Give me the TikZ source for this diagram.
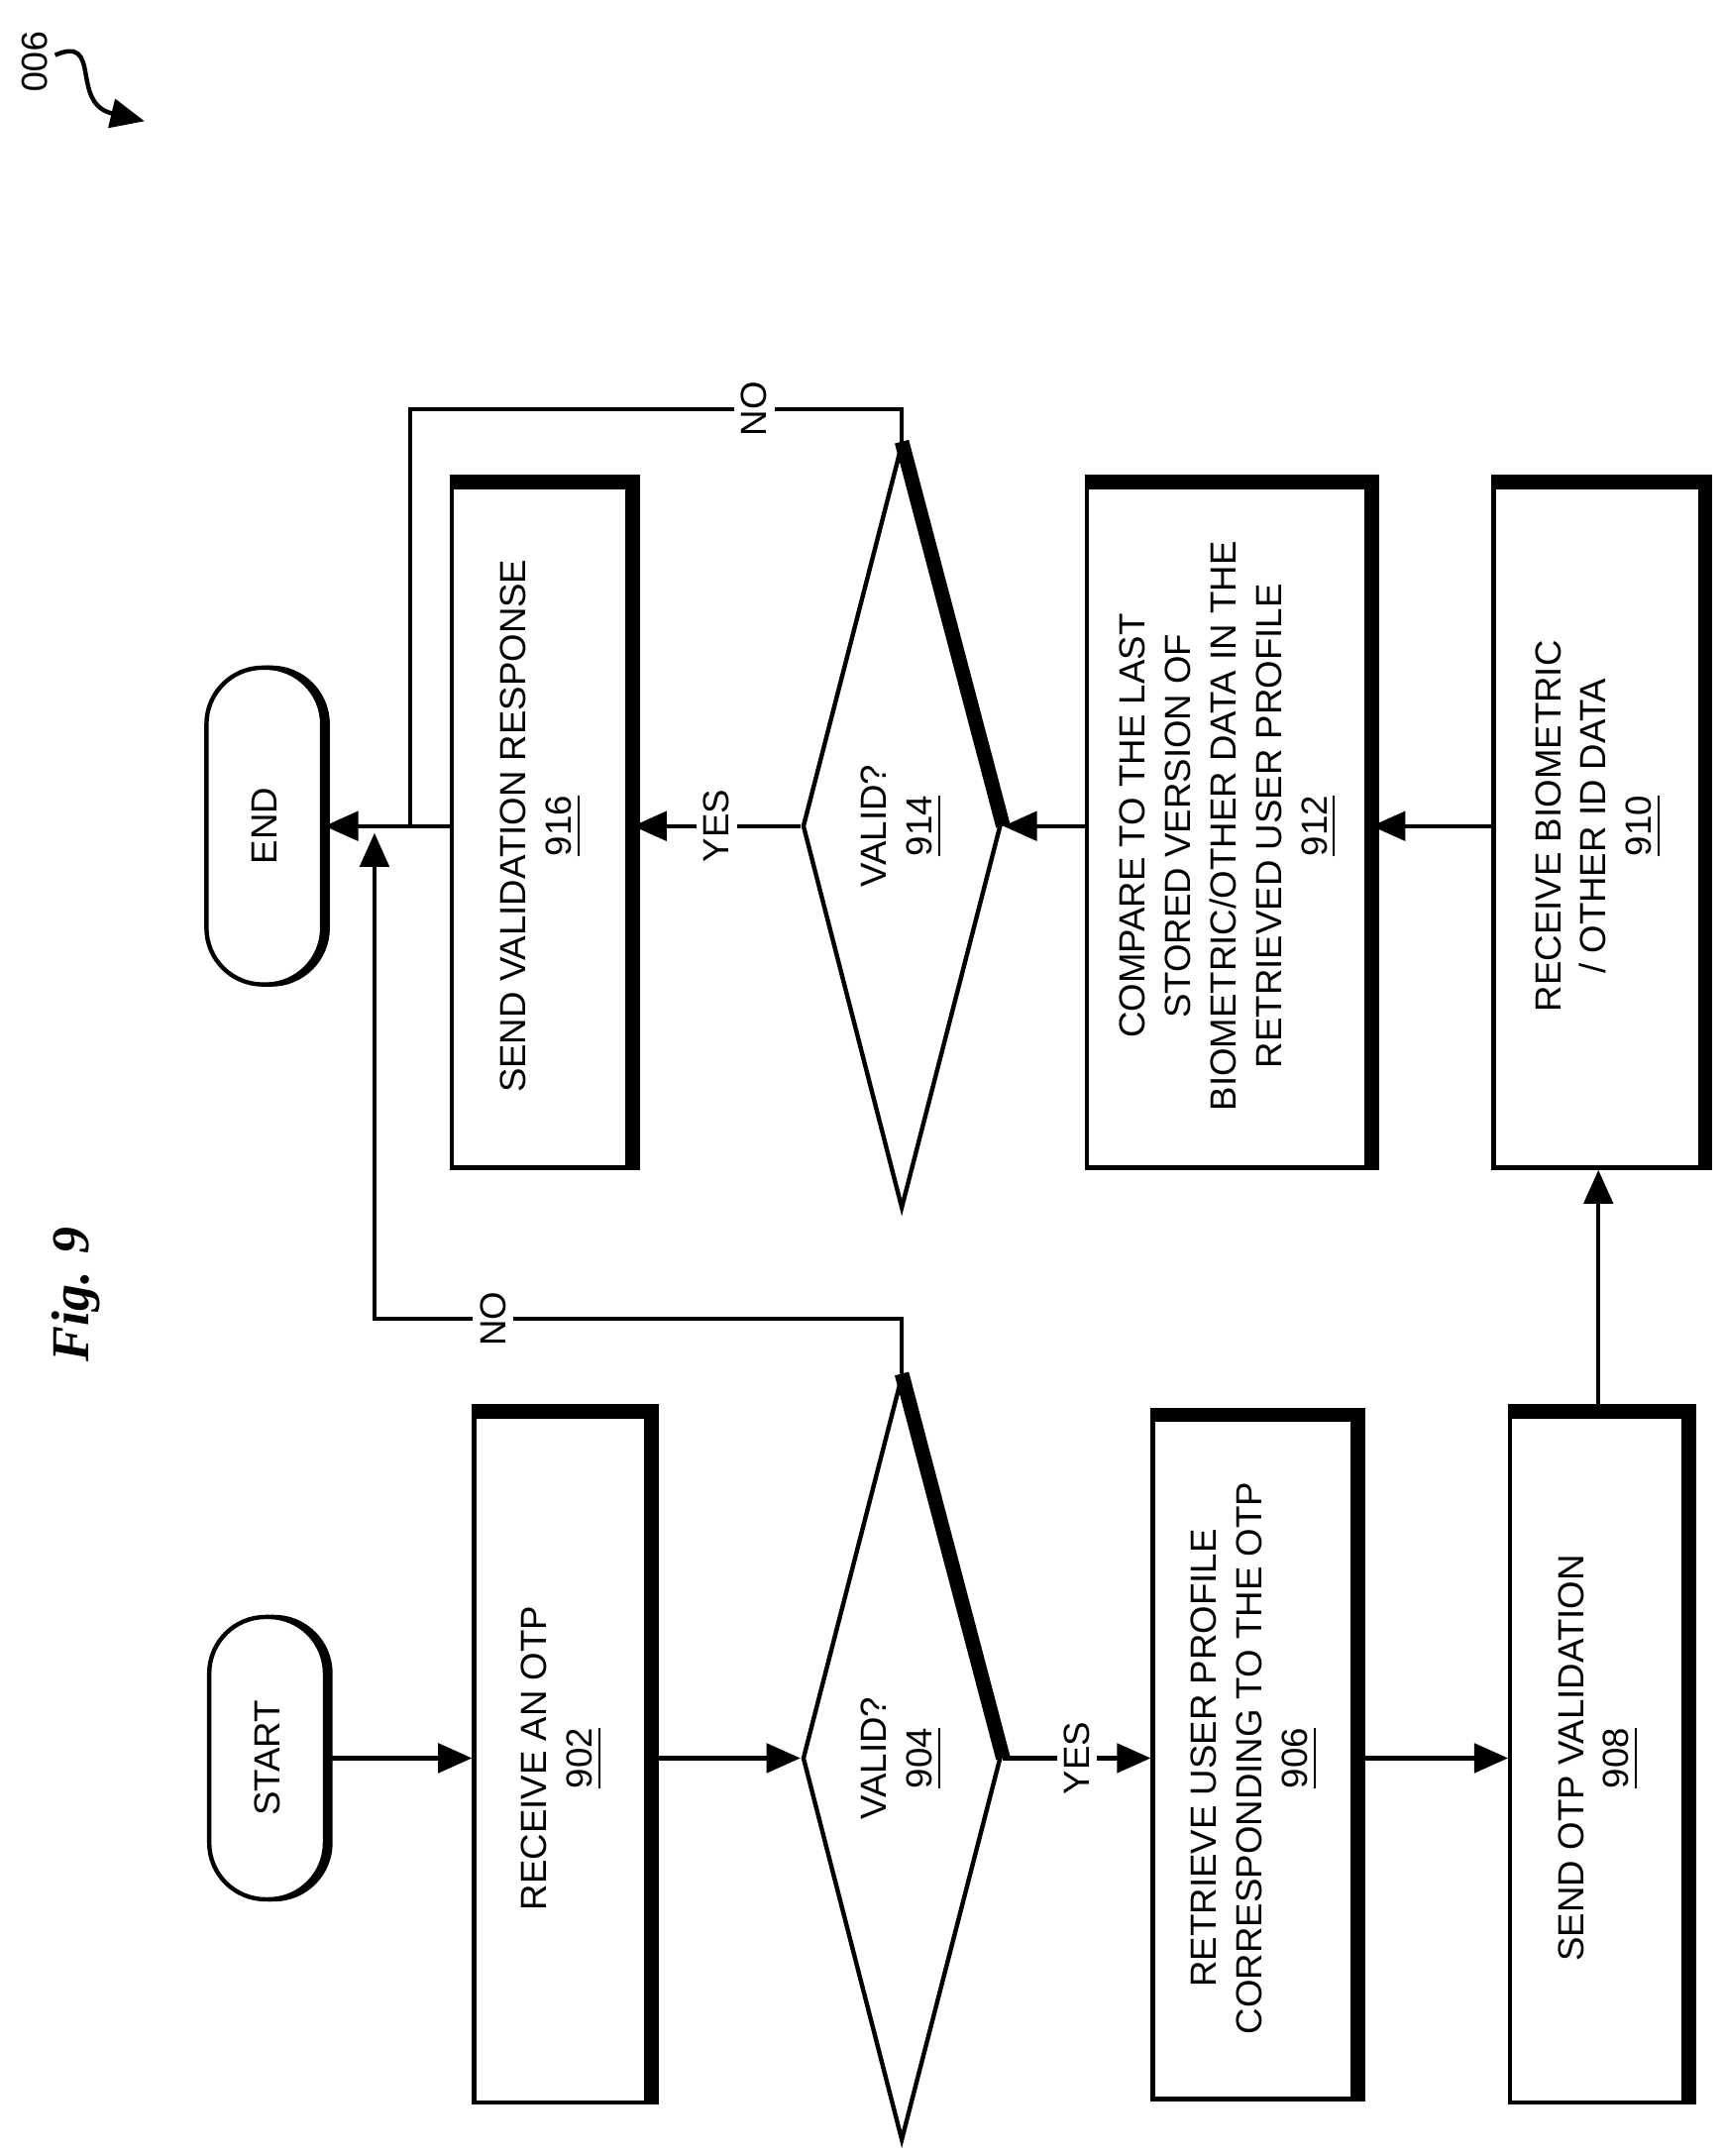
\documentclass[tikz,border=0pt]{standalone}
\usepackage{fontspec}
\setmainfont{Liberation Sans}
\newfontfamily\figfont{Liberation Serif}
\usetikzlibrary{shapes.geometric,arrows.meta}
\tikzset{
	box/.style={draw,line width=0.9pt,rotate=90,align=center,inner sep=0pt},
	pill/.style={draw,line width=0.9pt,fill=white,rotate=90,rounded corners=0.41cm,minimum height=0.84cm},
	dec/.style={draw,line width=0.9pt,rotate=90,shape=diamond,align=center,inner sep=0pt,shape aspect=3.85,minimum width=5.55cm,minimum height=1.44cm},
	shade/.style={line width=3pt},
	flow/.style={line width=0.9pt,-{Triangle[length=7pt,width=6pt]}},
	lab/.style={rotate=90,fill=white,inner sep=1.5pt}
}
\begin{document}
\begin{tikzpicture}[x=0.01cm,y=-0.01cm,font=\fontsize{7.5}{9.4}\selectfont]
\useasboundingbox (0,0) rectangle (1252,1566);
% label and figure title
\node[rotate=-90] (num) at (25,45) {900};
\draw[line width=0.9pt,-{Triangle[length=7pt,width=6pt]}] (40,40) .. controls (75,25) and (50,75) .. (105,88);
\node[rotate=90,font=\figfont\bfseries\itshape\fontsize{11}{13}\selectfont] (fig) at (55,940) {Fig. 9};
% terminals (black copy behind gives the heavy edge)
\node[pill,fill=black,minimum width=2.05cm] (startsh) at (198,1277) {};
\node[pill,minimum width=2.05cm] (start) at (194,1277) {START};
\node[pill,fill=black,minimum width=2.3cm] (endsh) at (196,600) {};
\node[pill,minimum width=2.3cm] (end) at (192,600) {END};
% first column
\node[box,minimum width=5cm,minimum height=1.27cm] (n902) at (408,1277) {RECEIVE AN OTP\\\underline{902}};
\node[dec] (n904) at (655,1277) {VALID?\\\underline{904}};
\node[box,minimum width=4.95cm,minimum height=1.47cm] (n906) at (911,1277) {RETRIEVE USER PROFILE\\CORRESPONDING TO THE OTP\\\underline{906}};
\node[box,minimum width=5cm,minimum height=1.28cm] (n908) at (1161,1277) {SEND OTP VALIDATION\\\underline{908}};
% second column
\node[box,minimum width=4.96cm,minimum height=1.52cm] (n910) at (1161,600) {RECEIVE BIOMETRIC\\/ OTHER ID DATA\\\underline{910}};
\node[box,minimum width=4.96cm,minimum height=2.05cm] (n912) at (892,600) {COMPARE TO THE LAST\\STORED VERSION OF\\BIOMETRIC/OTHER DATA IN THE\\RETRIEVED USER PROFILE\\\underline{912}};
\node[dec] (n914) at (655,600) {VALID?\\\underline{914}};
\node[box,minimum width=4.96cm,minimum height=1.3cm] (n916) at (393,600) {SEND VALIDATION RESPONSE\\\underline{916}};
% heavy edges
\foreach \b in {n902,n906,n908,n910,n912,n916}
	\draw[shade] (\b.south west)--(\b.south east)--(\b.north east);
\foreach \d in {n904,n914}
	\draw[shade] (\d.east)--(\d.south);
% connectors
\draw[flow] (start.south)--(n902.north);
\draw[flow] (n902.south)--(n904.north);
\draw[flow] (n904.south)--node[lab,pos=0.5]{YES}(n906.north);
\draw[flow] (n906.south)--(n908.north);
\draw[flow] (n908.east)--(n910.west);
\draw[flow] (n910.north)--(n912.south);
\draw[flow] (n912.north)--(n914.south);
\draw[flow] (n914.north)--node[lab,pos=0.5]{YES}(n916.south);
\draw[flow] (n916.north)--(end.south);
\coordinate (m1) at (272,605);
\draw[flow] (n904.east)--(655,958)--node[lab,pos=0.775]{NO}(272,958)--(m1);
\coordinate (m2) at (298,600);
\draw[line width=0.9pt] (n914.east)--(655,297)--node[lab,pos=0.3]{NO}(298,297)--(m2);
\end{tikzpicture}
\end{document}
